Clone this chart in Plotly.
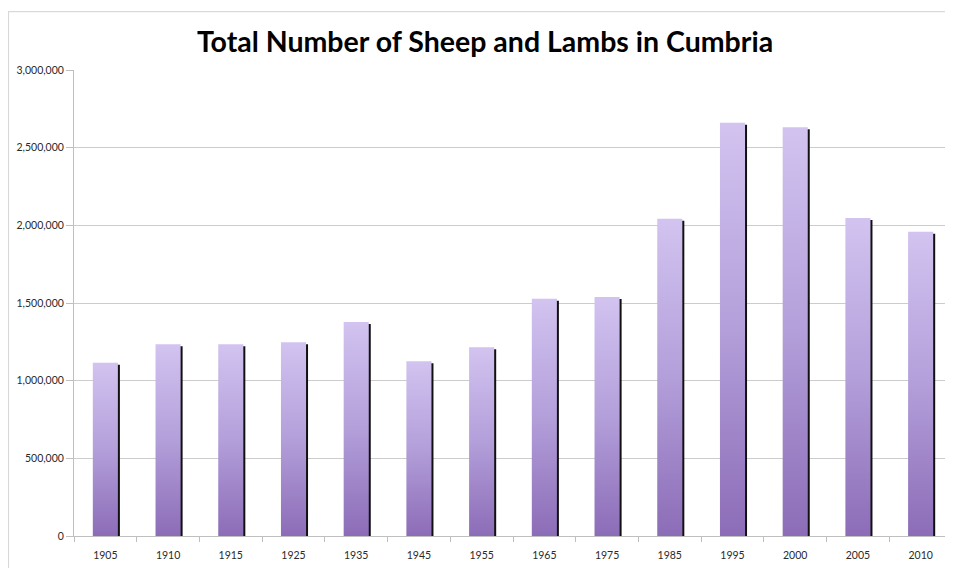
import plotly.graph_objects as go

years = ["1905", "1910", "1915", "1925", "1935", "1945", "1955",
         "1965", "1975", "1985", "1995", "2000", "2005", "2010"]
sheep_and_lambs = [1116000, 1234000, 1234000, 1247000, 1378000, 1125000, 1215000,
                   1528000, 1539000, 2043000, 2661000, 2631000, 2047000, 1959000]
y_ticks = [0, 500000, 1000000, 1500000, 2000000, 2500000, 3000000]

title_text = "Total Number of Sheep and Lambs in Cumbria"

# page body has an 8px margin, so the figure is sized to fit the window
W, H = 945, 560
L, R, T, B = 66, 1, 62, 32
pw, ph = W - L - R, H - T - B

fig = go.Figure()
fig.add_trace(go.Bar(
    x=years, y=sheep_and_lambs,
    marker=dict(color="#b39ddb", line=dict(width=0)),
    width=0.4,
    hoverinfo="x+y",
))

# outer chart border (light gray)
fig.add_shape(type="rect", xref="paper", yref="paper",
              x0=(0.5 - L) / pw, x1=(W + 10 - L) / pw,
              y0=-(B + 10) / ph, y1=(H - B - 3.7) / ph,
              line=dict(color="#d9d9d9", width=1.2), fillcolor="rgba(0,0,0,0)", layer="below")

fig.update_layout(
    width=W, height=H,
    margin=dict(l=L, r=R, t=T, b=B),
    paper_bgcolor="white", plot_bgcolor="white",
    showlegend=False,
    title=dict(text=title_text, x=477 / W, xanchor="center", xref="container",
               y=1 - 34 / H, yanchor="middle", yref="container",
               font=dict(family="Lato", size=28.5, color="black", weight=700)),
    font=dict(family="Lato", size=10.5, color="#2a2a2a"),
    bargap=0.6,
)
fig.update_xaxes(
    type="category", showgrid=False,
    showline=True, linecolor="#bfbfbf", linewidth=1,
    ticks="outside", tickson="boundaries", ticklen=5, tickcolor="#bfbfbf",
    ticklabelstandoff=9,
    tickfont=dict(family="Lato", size=10.5, color="#2a2a2a"),
)
fig.update_yaxes(
    range=[0, 3000000], tickvals=y_ticks, tickformat=",",
    showgrid=True, gridcolor="#cccccc", gridwidth=1,
    showline=True, linecolor="#bfbfbf", linewidth=1,
    ticks="outside", ticklen=7, tickcolor="#bfbfbf",
    zeroline=False,
    tickfont=dict(family="Lato", size=10.5, color="#2a2a2a"),
)

post = """
var gd = document.getElementById('{plot_id}');
var svg = gd.querySelector('.main-svg');
var defs = svg.querySelector('defs');
var ns = 'http://www.w3.org/2000/svg';
var lg = document.createElementNS(ns, 'linearGradient');
lg.setAttribute('id', 'barGrad');
lg.setAttribute('x1', '0'); lg.setAttribute('y1', '0');
lg.setAttribute('x2', '0'); lg.setAttribute('y2', '1');
[['0', '#d2c3f0'], ['0.5', '#b39fda'], ['1', '#8c6cb7']].forEach(function(s) {
  var st = document.createElementNS(ns, 'stop');
  st.setAttribute('offset', s[0]);
  st.setAttribute('stop-color', s[1]);
  lg.appendChild(st);
});
defs.appendChild(lg);
gd.querySelectorAll('.trace.bars path').forEach(function(p) {
  p.style.fill = 'url(#barGrad)';
  p.style.filter = 'drop-shadow(2.5px 2px 0px #111111)';
});
"""

fig.write_html("out.html", post_script=post)
